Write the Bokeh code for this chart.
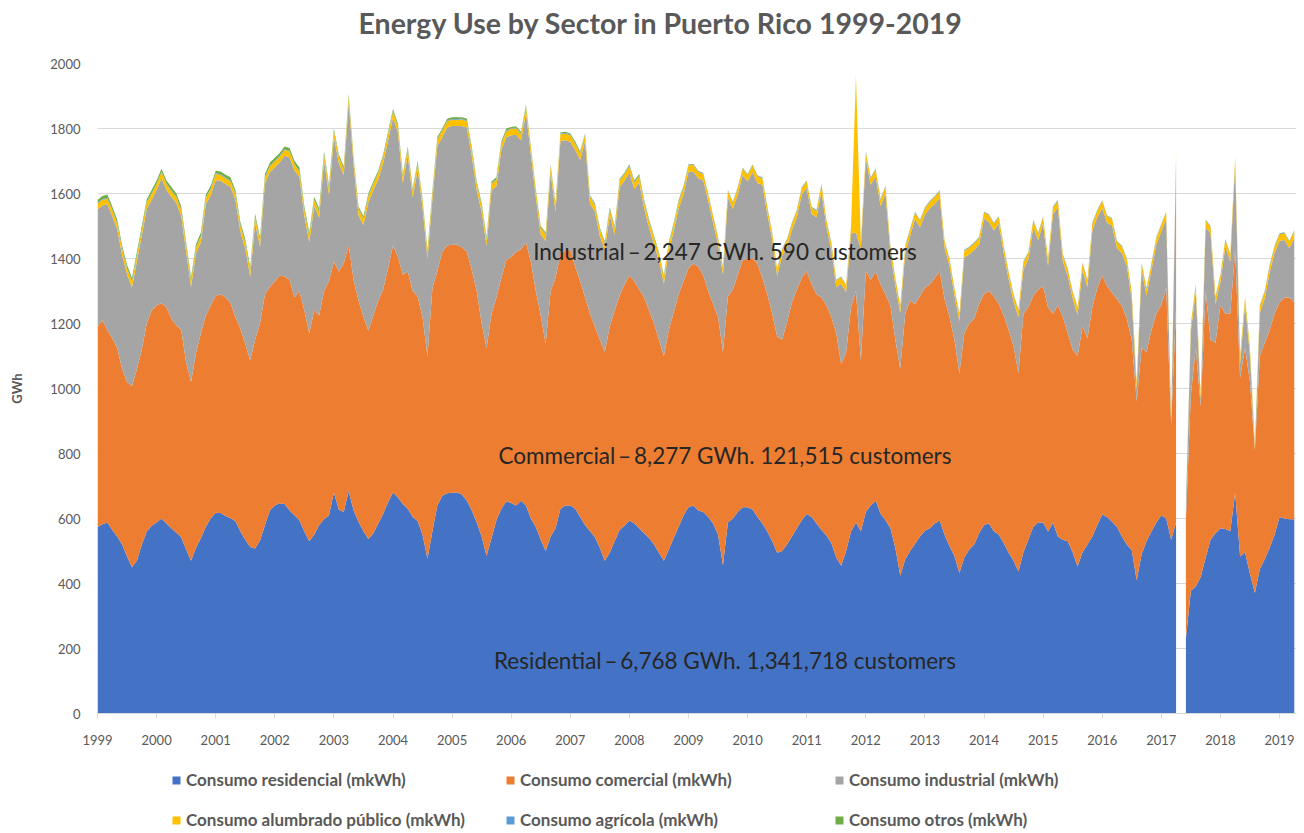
from math import nan

from bokeh.plotting import figure
from bokeh.layouts import column
from bokeh.models import (ColumnDataSource, Range1d, Label, Legend, LegendItem,
                          FixedTicker, CDSView, IndexFilter)
from bokeh.embed import file_html
from bokeh.resources import INLINE

# Year labels for the x axis (one tick per January)
years = [str(y) for y in range(1999, 2020)]

# Monthly energy use by sector, GWh (Jan 1999 - Apr 2019), one row per year.
# May 2017 has no reading (nan).
residencial = [
    574, 582, 588, 565, 545, 520, 483, 450, 470, 520, 560, 578,
    588, 600, 585, 570, 556, 542, 505, 470, 510, 540, 575, 601,
    618, 617, 608, 601, 592, 561, 535, 512, 508, 532, 580, 625,
    640, 647, 645, 625, 610, 595, 560, 530, 550, 580, 598, 610,
    680, 627, 620, 685, 625, 590, 561, 537, 555, 585, 615, 650,
    680, 665, 645, 630, 605, 592, 550, 476, 561, 640, 670, 678,
    679, 680, 674, 655, 625, 588, 545, 485, 540, 595, 630, 652,
    648, 640, 655, 640, 600, 574, 535, 500, 545, 570, 630, 640,
    640, 630, 605, 580, 561, 542, 510, 470, 495, 530, 565, 578,
    594, 585, 570, 555, 540, 520, 495, 470, 505, 540, 575, 610,
    635, 640, 625, 620, 605, 585, 550, 456, 588, 600, 620, 635,
    635, 628, 605, 585, 560, 530, 495, 500, 520, 545, 570, 595,
    614, 605, 585, 565, 548, 525, 480, 455, 500, 560, 588, 561,
    620, 640, 655, 615, 595, 570, 509, 424, 475, 500, 522, 545,
    562, 570, 585, 594, 550, 515, 485, 432, 480, 505, 520, 555,
    580, 585, 561, 550, 525, 495, 470, 437, 496, 535, 575, 588,
    588, 560, 588, 545, 535, 530, 496, 452, 496, 520, 545, 580,
    612, 605, 590, 574, 545, 520, 502, 410, 490, 530, 560, 588,
    610, 600, 535, 588, nan, 233, 378, 391, 420, 480, 535, 555,
    570, 568, 561, 679, 483, 496, 430, 371, 445, 475, 510, 550,
    605, 600, 598, 598,
]

comercial = [
    617, 628, 592, 590, 580, 540, 537, 557, 590, 600, 640, 662,
    668, 662, 665, 645, 639, 638, 575, 550, 600, 630, 650, 655,
    667, 673, 672, 662, 628, 624, 603, 574, 642, 668, 710, 687,
    690, 701, 700, 710, 670, 705, 680, 640, 690, 645, 702, 720,
    710, 733, 765, 755, 710, 680, 659, 641, 670, 685, 690, 720,
    760, 740, 705, 730, 695, 691, 670, 623, 748, 721, 750, 762,
    763, 762, 761, 765, 740, 712, 655, 640, 690, 685, 710, 743,
    757, 780, 773, 810, 790, 726, 690, 638, 755, 770, 784, 785,
    787, 745, 725, 700, 669, 648, 640, 642, 695, 710, 720, 742,
    754, 745, 735, 725, 700, 680, 655, 629, 675, 695, 715, 720,
    735, 745, 750, 728, 695, 675, 670, 656, 695, 705, 730, 760,
    765, 773, 780, 755, 730, 700, 665, 650, 684, 720, 735, 745,
    747, 715, 705, 715, 708, 695, 690, 620, 610, 690, 712, 525,
    741, 695, 705, 705, 695, 685, 641, 636, 755, 770, 738, 740,
    748, 750, 755, 767, 725, 705, 665, 615, 690, 695, 695, 705,
    710, 715, 722, 710, 700, 685, 660, 610, 734, 715, 710, 717,
    727, 690, 642, 711, 685, 640, 624, 647, 695, 635, 705, 729,
    736, 710, 705, 701, 710, 695, 648, 550, 635, 582, 620, 642,
    646, 709, 355, 662, nan, 367, 602, 734, 525, 820, 615, 585,
    686, 662, 669, 748, 550, 629, 590, 439, 654, 665, 670, 680,
    660, 680, 682, 667,
]

industrial = [
    360, 353, 388, 376, 365, 351, 331, 304, 331, 351, 353, 341,
    355, 385, 361, 376, 376, 351, 341, 293, 306, 281, 343, 339,
    356, 349, 349, 358, 361, 298, 293, 259, 359, 236, 341, 354,
    351, 348, 371, 376, 391, 351, 291, 281, 321, 301, 401, 266,
    383, 333, 271, 439, 353, 263, 283, 395, 385, 373, 388, 393,
    393, 383, 283, 358, 288, 390, 337, 301, 274, 386, 353, 363,
    366, 366, 373, 383, 350, 310, 344, 314, 380, 343, 393, 378,
    374, 361, 336, 397, 329, 289, 249, 316, 363, 205, 348, 339,
    332, 359, 374, 479, 339, 354, 319, 315, 342, 234, 334, 319,
    316, 284, 329, 274, 254, 244, 244, 223, 244, 249, 264, 268,
    297, 282, 272, 292, 277, 249, 223, 239, 304, 247, 247, 262,
    237, 265, 247, 287, 247, 227, 187, 257, 233, 222, 222, 257,
    256, 217, 237, 327, 241, 207, 142, 247, 187, 227, 180, 344,
    345, 292, 293, 241, 311, 162, 167, 173, 187, 199, 262, 211,
    225, 235, 228, 226, 157, 157, 136, 160, 234, 212, 212, 183,
    232, 212, 204, 247, 192, 157, 137, 173, 137, 147, 211, 152,
    192, 127, 307, 301, 171, 177, 157, 128, 174, 157, 237, 218,
    207, 194, 207, 157, 162, 163, 123, 37, 240, 174, 185, 213,
    227, 213, 2, 456, nan, 41, 197, 172, 17, 196, 327, 120,
    71, 207, 161, 265, 44, 135, 82, 3, 134, 137, 177, 187,
    190, 177, 152, 198,
]

alumbrado = [
    18, 18, 17, 18, 18, 19, 18, 18, 17, 18, 19, 19,
    18, 19, 18, 17, 18, 18, 19, 18, 18, 17, 18, 19,
    19, 18, 18, 17, 18, 18, 18, 19, 18, 18, 17, 18,
    18, 18, 19, 18, 18, 17, 18, 18, 19, 18, 18, 18,
    19, 19, 18, 19, 20, 19, 19, 18, 19, 19, 20, 19,
    19, 18, 19, 19, 20, 19, 19, 19, 18, 19, 20, 19,
    19, 19, 20, 19, 18, 19, 19, 19, 20, 19, 19, 18,
    20, 20, 19, 20, 21, 20, 20, 20, 19, 20, 21, 20,
    20, 19, 20, 20, 21, 20, 20, 20, 19, 20, 20, 21,
    20, 20, 19, 20, 20, 21, 20, 20, 19, 20, 20, 20,
    20, 21, 20, 20, 19, 20, 20, 20, 21, 20, 20, 19,
    20, 20, 21, 20, 20, 19, 20, 20, 20, 21, 20, 20,
    20, 19, 20, 20, 21, 20, 20, 20, 19, 20, 482, 20,
    21, 20, 20, 19, 20, 20, 21, 20, 20, 20, 19, 20,
    20, 20, 21, 20, 20, 19, 20, 20, 20, 21, 20, 20,
    20, 21, 20, 20, 19, 20, 20, 20, 21, 20, 20, 19,
    20, 20, 20, 21, 20, 20, 19, 20, 20, 20, 21, 20,
    21, 20, 20, 19, 20, 20, 20, 21, 20, 20, 19, 20,
    20, 20, 20, 20, nan, 7, 20, 20, 20, 21, 20, 20,
    20, 20, 21, 20, 20, 19, 20, 14, 20, 21, 20, 20,
    20, 21, 20, 20,
]

agricola = [
    2, 2, 2, 2, 2, 2, 2, 2, 2, 2, 2, 2,
    2, 2, 2, 2, 2, 2, 2, 2, 2, 2, 2, 2,
    2, 2, 2, 2, 2, 2, 2, 2, 2, 2, 2, 2,
    2, 2, 2, 2, 2, 2, 2, 2, 2, 2, 2, 2,
    2, 2, 2, 2, 2, 2, 2, 2, 2, 2, 2, 2,
    2, 2, 2, 2, 2, 2, 2, 2, 2, 2, 2, 2,
    2, 2, 2, 2, 2, 2, 2, 2, 2, 2, 2, 2,
    2, 2, 2, 2, 2, 2, 2, 2, 2, 2, 2, 2,
    2, 2, 2, 2, 2, 2, 2, 2, 2, 2, 2, 2,
    2, 2, 2, 2, 2, 2, 2, 2, 2, 2, 2, 2,
    2, 2, 2, 2, 2, 2, 2, 2, 2, 2, 2, 2,
    2, 2, 2, 2, 2, 2, 2, 2, 2, 2, 2, 2,
    2, 2, 2, 2, 2, 2, 2, 2, 2, 2, 2, 2,
    2, 2, 2, 2, 2, 2, 2, 2, 2, 2, 2, 2,
    2, 2, 2, 2, 2, 2, 2, 2, 2, 2, 2, 2,
    2, 2, 2, 2, 2, 2, 2, 2, 2, 2, 2, 2,
    2, 2, 2, 2, 2, 2, 2, 2, 2, 2, 2, 2,
    2, 2, 2, 2, 2, 2, 2, 2, 2, 2, 2, 2,
    2, 2, 2, 2, nan, 1, 2, 2, 2, 2, 2, 2,
    2, 2, 2, 2, 2, 2, 2, 2, 2, 2, 2, 2,
    2, 2, 2, 2,
]

otros = [
    9, 9, 10, 9, 9, 8, 9, 9, 10, 9, 8, 9,
    9, 8, 9, 10, 9, 9, 8, 9, 9, 10, 9, 8,
    8, 9, 9, 10, 9, 9, 9, 8, 9, 9, 10, 9,
    9, 9, 8, 9, 9, 10, 9, 9, 8, 9, 9, 9,
    6, 6, 7, 6, 5, 6, 6, 7, 6, 6, 5, 6,
    6, 7, 6, 6, 5, 6, 6, 6, 7, 6, 5, 6,
    6, 6, 5, 6, 7, 6, 6, 6, 5, 6, 6, 7,
    4, 4, 5, 4, 3, 4, 4, 4, 5, 4, 3, 4,
    4, 5, 4, 4, 3, 4, 4, 4, 5, 4, 4, 3,
    4, 4, 5, 4, 4, 3, 4, 4, 5, 4, 4, 4,
    1, 1, 1, 1, 1, 1, 1, 1, 1, 1, 1, 1,
    1, 1, 1, 1, 1, 1, 1, 1, 1, 1, 1, 1,
    1, 1, 1, 1, 1, 1, 1, 1, 1, 1, 1, 1,
    1, 1, 1, 1, 1, 1, 1, 1, 1, 1, 1, 1,
    1, 1, 1, 1, 1, 1, 1, 1, 1, 1, 1, 1,
    1, 1, 1, 1, 1, 1, 1, 1, 1, 1, 1, 1,
    1, 1, 1, 1, 1, 1, 1, 1, 1, 1, 1, 1,
    1, 1, 1, 1, 1, 1, 1, 1, 1, 1, 1, 1,
    1, 1, 1, 1, nan, 1, 1, 1, 1, 1, 1, 1,
    1, 1, 1, 1, 1, 1, 1, 1, 1, 1, 1, 1,
    1, 1, 1, 1,
]

series_names = ["residencial", "comercial", "industrial",
                "alumbrado", "agricola", "otros"]
legend_labels = ["Consumo residencial (mkWh)", "Consumo comercial (mkWh)",
                 "Consumo industrial (mkWh)", "Consumo alumbrado público (mkWh)",
                 "Consumo agrícola (mkWh)", "Consumo otros (mkWh)"]
colors = ["#4472C4", "#ED7D31", "#A5A5A5", "#FFC000", "#5B9BD5", "#70AD47"]

# Sector annotations: text, month position, GWh position
notes = [
    ("Industrial\u2009–\u20092,247 GWh. 590 customers", 127.4, 1421),
    ("Commercial\u2009–\u20098,277 GWh. 121,515 customers", 127.4, 794),
    ("Residential\u2009–\u20096,768 GWh. 1,341,718 customers", 127.4, 163),
]

n_months = len(residencial)
mes = list(range(n_months))
source = ColumnDataSource(dict(
    mes=mes, residencial=residencial, comercial=comercial,
    industrial=industrial, alumbrado=alumbrado, agricola=agricola,
    otros=otros,
))

# Split the months into runs of valid readings so a missing month leaves a gap
segments, run = [], []
for k, v in enumerate(residencial):
    if v != v:
        if run:
            segments.append(run)
        run = []
    else:
        run.append(k)
if run:
    segments.append(run)

FONT = "Lato"
GREY = "#595959"

# Title strip
head = figure(width=1304, height=53, output_backend="svg", toolbar_location=None,
              x_axis_type=None, y_axis_type=None, min_border=0,
              title="Energy Use by Sector in Puerto Rico 1999-2019")
head.grid.grid_line_color = None
head.outline_line_color = None
head.title.align = "left"
head.title.offset = 261
head.title.standoff = 6
head.title.text_font = FONT
head.title.text_font_size = "28.5px"
head.title.text_font_style = "bold"
head.title.text_color = GREY

# Main stacked-area chart
p = figure(width=1304, height=695,
           x_range=Range1d(0, 243.45), y_range=Range1d(0, 2000),
           output_backend="svg", toolbar_location=None,
           min_border_left=97, min_border_right=8,
           min_border_top=10, min_border_bottom=35)

for seg in segments:
    p.varea_stack(series_names, x="mes", color=colors, source=source,
                  view=CDSView(filter=IndexFilter(seg)))

p.xaxis.ticker = FixedTicker(ticks=[12 * k for k in range(len(years))])
p.xaxis.major_label_overrides = {12 * k: y for k, y in enumerate(years)}
p.xaxis.axis_line_color = "#D9D9D9"
p.xaxis.major_tick_line_color = "#D9D9D9"
p.xaxis.major_tick_out = 5
p.xaxis.major_tick_in = 0
p.xaxis.minor_tick_line_color = None
p.xaxis.major_label_text_font = FONT
p.xaxis.major_label_text_font_size = "13px"
p.xaxis.major_label_text_color = GREY
p.xaxis.major_label_standoff = 16

p.yaxis.ticker = FixedTicker(ticks=list(range(0, 2001, 200)))
p.yaxis.axis_line_color = None
p.yaxis.major_tick_line_color = None
p.yaxis.minor_tick_line_color = None
p.yaxis.major_label_text_font = FONT
p.yaxis.major_label_text_font_size = "13px"
p.yaxis.major_label_text_color = GREY
p.yaxis.major_label_standoff = 11
p.yaxis.axis_label = "GWh"
p.yaxis.axis_label_text_font = FONT
p.yaxis.axis_label_text_font_size = "13px"
p.yaxis.axis_label_text_font_style = "bold"
p.yaxis.axis_label_text_color = GREY
p.yaxis.axis_label_standoff = 22

p.xgrid.grid_line_color = None
p.ygrid.grid_line_color = "#D9D9D9"
p.outline_line_color = None

for text, mx, gy in notes:
    p.add_layout(Label(x=mx, y=gy, text=text, text_align="center",
                       text_baseline="middle", text_font=FONT,
                       text_font_size="22.5px", text_color="#262626"))

# Legend strip under the chart: three columns of two entries each.
# The strip holds hidden copies of the stacked areas, used only as swatches.
lg = figure(width=1304, height=85, x_range=Range1d(0, 1), y_range=Range1d(0, 1),
            output_backend="svg", toolbar_location=None,
            x_axis_type=None, y_axis_type=None, min_border=0)
lg.grid.grid_line_color = None
lg.outline_line_color = None
swatches = lg.varea_stack(series_names, x="mes", color=colors, source=source)
for r in swatches:
    r.visible = False

columns = [(0, 3, 74), (1, 4, 408), (2, 5, 737)]
for top, bottom, x_off in columns:
    leg = Legend(
        items=[LegendItem(label=legend_labels[top], renderers=[swatches[top]]),
               LegendItem(label=legend_labels[bottom], renderers=[swatches[bottom]])],
        location=(x_off, 3), orientation="vertical",
        glyph_width=10, glyph_height=10, label_height=20, spacing=19,
        padding=0, margin=0, label_standoff=5,
        border_line_color=None, background_fill_alpha=0,
        inactive_fill_alpha=0,
        label_text_font=FONT, label_text_font_size="17px",
        label_text_font_style="bold", label_text_color=GREY,
    )
    lg.add_layout(leg, "center")

open("out.html", "w").write(file_html(column(head, p, lg), INLINE))
